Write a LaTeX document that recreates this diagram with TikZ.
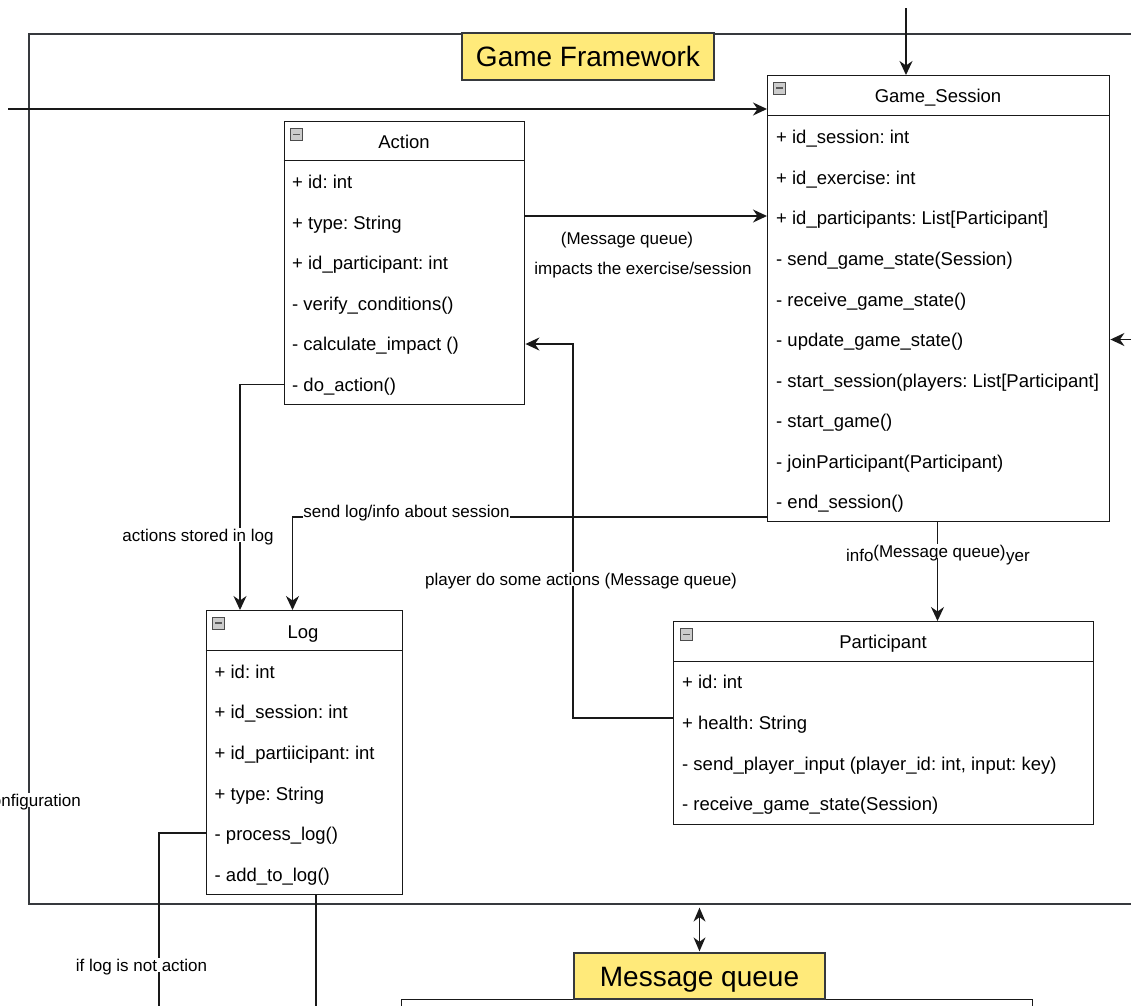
\documentclass[tikz,border=0pt]{standalone}
\usepackage{fontspec}
\setmainfont{Liberation Sans}
\usetikzlibrary{arrows.meta}
\definecolor{lbl}{RGB}{255,234,122}
\definecolor{ln}{RGB}{25,25,25}
\definecolor{frm}{RGB}{54,57,61}
\frenchspacing
\begin{document}
\begin{tikzpicture}[x=1pt,y=-1pt,
 umlbox/.style={draw=ln, line width=1.4pt, rectangle, anchor=north west, inner sep=0pt, fill=white},
 hline/.style={draw=ln, line width=1.4pt},
 row/.style={anchor=west, inner sep=0pt, text height=13.5pt, text depth=0pt, font=\fontsize{18.5}{22}\selectfont},
 ttl/.style={inner sep=0pt, text height=13.5pt, text depth=0pt, font=\fontsize{18.5}{22}\selectfont},
 lab/.style={inner sep=1pt, fill=white, text height=12.5pt, text depth=0pt, font=\fontsize{17}{20}\selectfont},
 conn/.style={draw=ln, line width=1.5pt},
 arr/.style={conn, -{Stealth[length=14pt,width=13pt,inset=4.5pt]}},
 dbl/.style={draw=ln, line width=1.2pt, {Stealth[length=14pt,width=12pt,inset=4.5pt]}-{Stealth[length=14pt,width=12pt,inset=4.5pt]}},
 yel/.style={draw=frm, line width=1.3pt, fill=lbl, inner sep=0pt, text height=20pt, text depth=0pt, font=\fontsize{28}{32}\selectfont},
 icon/.style={draw=gray!60!black, fill=gray!40, minimum size=12pt, inner sep=0pt, line width=0.7pt,
   path picture={\draw[line width=1.8pt, black!65] ([xshift=2.5pt]path picture bounding box.west) -- ([xshift=-2.5pt]path picture bounding box.east);}}
]
\useasboundingbox (0,0) rectangle (1131,1005);
\clip (0,0) rectangle (1131,1005);

% frame
\node[draw=frm, line width=1.6pt, anchor=north west, minimum width=1150pt, minimum height=870pt, inner sep=0pt] (frame) at (28,33) {};

% helper coordinates
\coordinate (topin) at (906,8);
\coordinate (leftin) at (8,109);
\coordinate (rightin) at (1135,339.5);
\coordinate (ag) at (524,216);
\coordinate (pa) at (573,718);
\coordinate (c240) at (240,0);
\coordinate (c517) at (0,517);
\coordinate (c292) at (292.5,0);
\coordinate (c937) at (937.5,0);
\coordinate (bl1) at (159,1012);
\coordinate (bl2) at (316,1012);

% message queue bottom box
\node[draw=ln, line width=1.4pt, anchor=north west, minimum width=631pt, minimum height=30pt, inner sep=0pt] (mqbox) at (401,999) {};

% ---------- boxes ----------
% Game_Session
\node[umlbox, minimum width=342pt, minimum height=446pt] (gs) at (767,75) {};
\draw[hline] (gs.west |- 0,115.5) -- (gs.east |- 0,115.5);
\node[icon] (gsi) at (779.5,88) {};
\node[ttl] (gst) at (938,96) {Game\_Session};
\node[row] (g1) at (776,137) {+ id\_session: int};
\node[row] (g2) at (776,177.5) {+ id\_exercise: int};
\node[row] (g3) at (776,218) {+ id\_participants: List[Participant]};
\node[row] (g4) at (776,258.5) {- send\_game\_state(Session)};
\node[row] (g5) at (776,299.5) {- receive\_game\_state()};
\node[row] (g6) at (776,340) {- update\_game\_state()};
\node[row] (g7) at (776,380.5) {- start\_session(players: List[Participant]};
\node[row] (g8) at (776,421) {- start\_game()};
\node[row] (g9) at (776,461.5) {- joinParticipant(Participant)};
\node[row] (g10) at (776,502) {- end\_session()};

% Action
\node[umlbox, minimum width=240.5pt, minimum height=283.5pt] (act) at (283.5,120.5) {};
\draw[hline] (act.west |- 0,160.5) -- (act.east |- 0,160.5);
\node[icon] (acti) at (296.5,134.5) {};
\node[ttl] (actt) at (404,142) {Action};
\node[row] (a1) at (292,182) {+ id: int};
\node[row] (a2) at (292,222.5) {+ type: String};
\node[row] (a3) at (292,263) {+ id\_participant: int};
\node[row] (a4) at (292,303.5) {- verify\_conditions()};
\node[row] (a5) at (292,344) {- calculate\_impact ()};
\node[row] (a6) at (292,384.5) {- do\_action()};

% Log
\node[umlbox, minimum width=196pt, minimum height=283.5pt] (log) at (205.5,610) {};
\draw[hline] (log.west |- 0,650.5) -- (log.east |- 0,650.5);
\node[icon] (logi) at (218.5,623) {};
\node[ttl] (logt) at (303,631.5) {Log};
\node[row] (l1) at (214.5,671.5) {+ id: int};
\node[row] (l2) at (214.5,712) {+ id\_session: int};
\node[row] (l3) at (214.5,753) {+ id\_partiicipant: int};
\node[row] (l4) at (214.5,793.5) {+ type: String};
\node[row] (l5) at (214.5,834) {- process\_log()};
\node[row] (l6) at (214.5,874.5) {- add\_to\_log()};

% Participant
\node[umlbox, minimum width=420pt, minimum height=202.5pt] (part) at (673,621) {};
\draw[hline] (part.west |- 0,661.5) -- (part.east |- 0,661.5);
\node[icon] (parti) at (686.5,634.5) {};
\node[ttl] (partt) at (883,641.5) {Participant};
\node[row] (p1) at (682,682) {+ id: int};
\node[row] (p2) at (682,723) {+ health: String};
\node[row] (p3) at (682,763.5) {- send\_player\_input (player\_id: int, input: key)};
\node[row] (p4) at (682,804) {- receive\_game\_state(Session)};

% labels (yellow)
\node[yel, minimum width=252pt, minimum height=47pt] (gf) at (588,56.5) {Game Framework};
\node[yel, minimum width=251pt, minimum height=46pt] (mq) at (699.5,976) {Message queue};

% ---------- connectors ----------
\draw[arr] (topin) -- (topin |- gs.north);
\draw[arr] (leftin) -- (leftin -| gs.west);
\draw[arr] (rightin) -- (rightin -| gs.east);
\draw[arr] (ag -| act.east) -- (ag -| gs.west);
\draw[arr] (pa -| part.west) -- (pa) |- (act.east |- a5.west);
\draw[arr] (act.west |- a6.west) -| (log.north -| c240);
\draw[arr] (gs.west |- c517) -| (log.north -| c292);
\draw[arr] (gs.south -| c937) -- (part.north -| c937);
\draw[conn] (log.west |- 0,833) -| (bl1);
\draw[conn] (log.south -| bl2) -- (bl2);
\draw[dbl, shorten <=3pt, shorten >=1pt] (frame.south -| mq.north) -- (mq.north);

% connector labels
\node[lab, fill=none] (agl1) at (627,238) {(Message queue)};
\node[lab, fill=none] (agl2) at (643,268) {impacts the exercise/session};
\node[lab] (pal) at (581,579) {player do some actions (Message queue)};
\node[lab] (dll) at (198,535) {actions stored in log};
\node[lab, inner sep=0.3pt] (sll) at (406.5,511.5) {send log/info about session};
\node[lab, fill=none, anchor=west] (gpl1) at (845,555) {info};
\node[lab, fill=none, anchor=east] (gpl3) at (1031,555) {yer};
\node[lab, inner sep=0.5pt] (gpl2) at (939.5,551) {(Message queue)};
\node[lab] (pll) at (141.5,965) {if log is not action};
\node[lab, anchor=east] (cfg) at (82,800) {configuration};
\end{tikzpicture}
\end{document}
